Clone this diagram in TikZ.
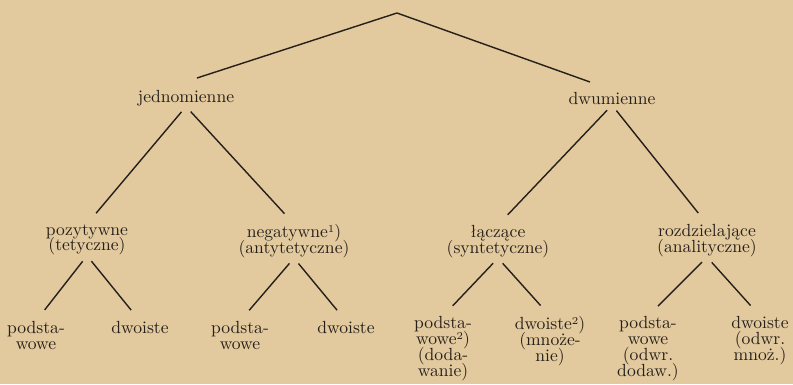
\documentclass[tikz,border=0pt]{standalone}
\usepackage{fontspec}
\usepackage{tikz}
\usetikzlibrary{positioning}
\definecolor{paper}{RGB}{226,201,158}
\definecolor{ink}{RGB}{38,32,27}
\newcommand\treefont{\fontsize{10}{9}\selectfont\lineskiplimit=-20pt\relax}
\newcommand\fnmark[1]{\raisebox{0.6ex}{\fontsize{6}{6}\selectfont #1}}

\tikzset{
  term/.style={inner sep=0pt, align=center, text=ink, anchor=north},
  branch/.style={draw=ink, line width=0.8pt, shorten <=4pt, shorten >=8pt},
}

\begin{document}
\begin{tikzpicture}[x=0.2mm, y=-0.2mm, font=\treefont]
        % paper
        \useasboundingbox (0,0) rectangle (793,384);
        \fill[paper] (0,0) rectangle (793,384);

        % top level
        \coordinate (root) at (397,13);
        \node[term] (jedn) at (186,90) {jednomienne};
        \node[term] (dwu) at (612,92) {dwumienne};

        % second level
        \node[term] (poz) at (87,224) {pozytywne\\(tetyczne)};
        \node[term] (neg) at (294,224) {negatywne\fnmark{1})\\(antytetyczne)};
        \node[term] (lacz) at (498,225) {łączące\\(syntetyczne)};
        \node[term] (rozdz) at (707,224) {rozdzielające\\(analityczne)};

        % third level
        \node[term] (pozpod) at (36,321) {podsta-\\wowe};
        \node[term] (pozdw) at (140,321) {dwoiste};
        \node[term] (negpod) at (240,321) {podsta-\\wowe};
        \node[term] (negdw) at (346,321) {dwoiste};
        \node[term] (laczpod) at (443,316) {podsta-\\wowe\fnmark{2})\\(doda-\\wanie)};
        \node[term] (laczdw) at (550,316) {dwoiste\fnmark{2})\\(mnoże-\\nie)};
        \node[term] (rozpod) at (648,316) {podsta-\\wowe\\(odwr.\\dodaw.)};
        \node[term] (rozdw) at (760,316) {dwoiste\\(odwr.\\mnoż.)};

        % connectors
        \draw[ink, line width=0.8pt] (root) -- ([xshift=2.2mm,yshift=2.4mm]jedn.north);
        \draw[ink, line width=0.8pt] (root) -- ([xshift=-4.4mm,yshift=2mm]dwu.north);
        \foreach \p/\c in {jedn/poz,jedn/neg,dwu/lacz,dwu/rozdz,
                           poz/pozpod,poz/pozdw,neg/negpod,neg/negdw,
                           lacz/laczpod,lacz/laczdw,rozdz/rozpod,rozdz/rozdw}
          \draw[branch] (\p.south) -- (\c.north);
      \end{tikzpicture}
\end{document}
